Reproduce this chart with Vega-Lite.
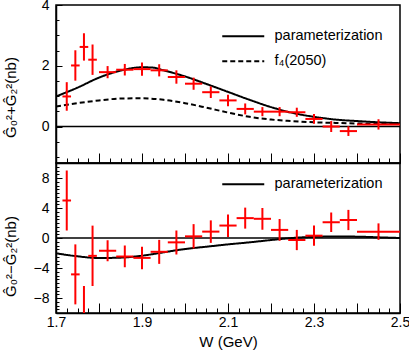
{
  "$schema": "https://vega.github.io/schema/vega-lite/v6.json",
  "padding": {"left": 2, "top": -3, "right": 5, "bottom": 0},
  "background": "white",
  "config": {
    "view": {"stroke": "black", "strokeWidth": 1.5},
    "font": "Liberation Sans",
    "axis": {
      "grid": false,
      "domainColor": "black",
      "domainWidth": 1.5,
      "tickColor": "black",
      "tickWidth": 1,
      "labelColor": "black",
      "labelFont": "Liberation Sans",
      "labelFontSize": 14,
      "titleColor": "black",
      "titleFont": "Liberation Sans",
      "titleFontSize": 15,
      "titleFontWeight": "normal",
      "labelOverlap": false,
      "labelFlush": false,
      "labelBound": false
    },
    "legend": {
      "labelFont": "Liberation Sans",
      "labelFontSize": 14.5,
      "labelColor": "black"
    }
  },
  "datasets": {
    "top_pts": [
      {"W": 1.725, "xlo": 1.715, "xhi": 1.735, "v": 0.99, "lo": 0.52, "hi": 1.46},
      {"W": 1.745, "xlo": 1.735, "xhi": 1.755, "v": 2.01, "lo": 1.51, "hi": 2.51},
      {"W": 1.765, "xlo": 1.755, "xhi": 1.775, "v": 2.62, "lo": 2.17, "hi": 3.07},
      {"W": 1.785, "xlo": 1.775, "xhi": 1.795, "v": 2.2, "lo": 1.7, "hi": 2.7},
      {"W": 1.82, "xlo": 1.8, "xhi": 1.84, "v": 1.79, "lo": 1.59, "hi": 1.99},
      {"W": 1.86, "xlo": 1.84, "xhi": 1.88, "v": 1.87, "lo": 1.68, "hi": 2.06},
      {"W": 1.9, "xlo": 1.88, "xhi": 1.92, "v": 1.89, "lo": 1.67, "hi": 2.11},
      {"W": 1.94, "xlo": 1.92, "xhi": 1.96, "v": 1.85, "lo": 1.65, "hi": 2.05},
      {"W": 1.98, "xlo": 1.96, "xhi": 2.0, "v": 1.63, "lo": 1.41, "hi": 1.85},
      {"W": 2.02, "xlo": 2.0, "xhi": 2.04, "v": 1.41, "lo": 1.21, "hi": 1.61},
      {"W": 2.06, "xlo": 2.04, "xhi": 2.08, "v": 1.13, "lo": 0.94, "hi": 1.32},
      {"W": 2.1, "xlo": 2.08, "xhi": 2.12, "v": 0.86, "lo": 0.67, "hi": 1.05},
      {"W": 2.14, "xlo": 2.12, "xhi": 2.16, "v": 0.58, "lo": 0.4, "hi": 0.76},
      {"W": 2.18, "xlo": 2.16, "xhi": 2.2, "v": 0.49, "lo": 0.34, "hi": 0.64},
      {"W": 2.22, "xlo": 2.2, "xhi": 2.24, "v": 0.49, "lo": 0.34, "hi": 0.64},
      {"W": 2.26, "xlo": 2.24, "xhi": 2.28, "v": 0.47, "lo": 0.32, "hi": 0.62},
      {"W": 2.3, "xlo": 2.28, "xhi": 2.32, "v": 0.25, "lo": 0.09, "hi": 0.41},
      {"W": 2.34, "xlo": 2.32, "xhi": 2.36, "v": 0.0, "lo": -0.18, "hi": 0.18},
      {"W": 2.38, "xlo": 2.36, "xhi": 2.4, "v": -0.15, "lo": -0.31, "hi": 0.01},
      {"W": 2.45, "xlo": 2.4, "xhi": 2.5, "v": 0.07, "lo": -0.1, "hi": 0.24}
    ],
    "top_curves": [
      {"W": 1.7, "value": 0.99, "series": "parameterization"},
      {"W": 1.75, "value": 1.28, "series": "parameterization"},
      {"W": 1.8, "value": 1.61, "series": "parameterization"},
      {"W": 1.85, "value": 1.84, "series": "parameterization"},
      {"W": 1.9, "value": 1.95, "series": "parameterization"},
      {"W": 1.925, "value": 1.94, "series": "parameterization"},
      {"W": 1.95, "value": 1.85, "series": "parameterization"},
      {"W": 2.0, "value": 1.65, "series": "parameterization"},
      {"W": 2.05, "value": 1.4, "series": "parameterization"},
      {"W": 2.1, "value": 1.14, "series": "parameterization"},
      {"W": 2.15, "value": 0.88, "series": "parameterization"},
      {"W": 2.2, "value": 0.64, "series": "parameterization"},
      {"W": 2.25, "value": 0.45, "series": "parameterization"},
      {"W": 2.3, "value": 0.32, "series": "parameterization"},
      {"W": 2.35, "value": 0.23, "series": "parameterization"},
      {"W": 2.4, "value": 0.18, "series": "parameterization"},
      {"W": 2.45, "value": 0.14, "series": "parameterization"},
      {"W": 2.5, "value": 0.11, "series": "parameterization"},
      {"W": 1.7, "value": 0.66, "series": "f₄(2050)"},
      {"W": 1.75, "value": 0.77, "series": "f₄(2050)"},
      {"W": 1.8, "value": 0.86, "series": "f₄(2050)"},
      {"W": 1.85, "value": 0.92, "series": "f₄(2050)"},
      {"W": 1.9, "value": 0.93, "series": "f₄(2050)"},
      {"W": 1.95, "value": 0.88, "series": "f₄(2050)"},
      {"W": 2.0, "value": 0.77, "series": "f₄(2050)"},
      {"W": 2.05, "value": 0.62, "series": "f₄(2050)"},
      {"W": 2.1, "value": 0.46, "series": "f₄(2050)"},
      {"W": 2.15, "value": 0.32, "series": "f₄(2050)"},
      {"W": 2.2, "value": 0.23, "series": "f₄(2050)"},
      {"W": 2.25, "value": 0.18, "series": "f₄(2050)"},
      {"W": 2.3, "value": 0.14, "series": "f₄(2050)"},
      {"W": 2.35, "value": 0.12, "series": "f₄(2050)"},
      {"W": 2.4, "value": 0.1, "series": "f₄(2050)"},
      {"W": 2.45, "value": 0.09, "series": "f₄(2050)"},
      {"W": 2.5, "value": 0.08, "series": "f₄(2050)"}
    ],
    "bot_pts": [
      {"W": 1.725, "xlo": 1.715, "xhi": 1.735, "v": 5.0, "lo": 1.0, "hi": 9.0},
      {"W": 1.745, "xlo": 1.735, "xhi": 1.755, "v": -4.85, "lo": -8.85, "hi": -0.85},
      {"W": 1.765, "xlo": 1.755, "xhi": 1.775, "v": -10.5, "lo": -14.5, "hi": -6.4},
      {"W": 1.785, "xlo": 1.775, "xhi": 1.795, "v": -2.38, "lo": -6.4, "hi": 1.65},
      {"W": 1.82, "xlo": 1.8, "xhi": 1.84, "v": -1.7, "lo": -3.1, "hi": -0.3},
      {"W": 1.86, "xlo": 1.84, "xhi": 1.88, "v": -2.47, "lo": -3.9, "hi": -1.0},
      {"W": 1.9, "xlo": 1.88, "xhi": 1.92, "v": -2.65, "lo": -4.15, "hi": -1.15},
      {"W": 1.94, "xlo": 1.92, "xhi": 1.96, "v": -1.84, "lo": -3.45, "hi": -0.25},
      {"W": 1.98, "xlo": 1.96, "xhi": 2.0, "v": -0.58, "lo": -2.2, "hi": 1.0},
      {"W": 2.02, "xlo": 2.0, "xhi": 2.04, "v": 0.22, "lo": -1.4, "hi": 1.85},
      {"W": 2.06, "xlo": 2.04, "xhi": 2.08, "v": 0.85, "lo": -0.65, "hi": 2.35},
      {"W": 2.1, "xlo": 2.08, "xhi": 2.12, "v": 1.66, "lo": 0.15, "hi": 3.15},
      {"W": 2.14, "xlo": 2.12, "xhi": 2.16, "v": 2.65, "lo": 1.25, "hi": 4.05},
      {"W": 2.18, "xlo": 2.16, "xhi": 2.2, "v": 2.56, "lo": 1.1, "hi": 4.0},
      {"W": 2.22, "xlo": 2.2, "xhi": 2.24, "v": 1.08, "lo": -0.37, "hi": 2.53},
      {"W": 2.26, "xlo": 2.24, "xhi": 2.28, "v": -0.27, "lo": -1.62, "hi": 1.08},
      {"W": 2.3, "xlo": 2.28, "xhi": 2.32, "v": 0.31, "lo": -1.04, "hi": 1.66},
      {"W": 2.34, "xlo": 2.32, "xhi": 2.36, "v": 2.1, "lo": 0.8, "hi": 3.4},
      {"W": 2.38, "xlo": 2.36, "xhi": 2.4, "v": 2.4, "lo": 1.05, "hi": 3.75},
      {"W": 2.45, "xlo": 2.4, "xhi": 2.5, "v": 0.85, "lo": -0.25, "hi": 1.95}
    ],
    "bot_curve": [
      {"W": 1.7, "value": -2.04, "series": "parameterization"},
      {"W": 1.75, "value": -2.44, "series": "parameterization"},
      {"W": 1.8, "value": -2.67, "series": "parameterization"},
      {"W": 1.85, "value": -2.62, "series": "parameterization"},
      {"W": 1.9, "value": -2.36, "series": "parameterization"},
      {"W": 1.95, "value": -1.91, "series": "parameterization"},
      {"W": 2.0, "value": -1.47, "series": "parameterization"},
      {"W": 2.05, "value": -1.16, "series": "parameterization"},
      {"W": 2.1, "value": -0.85, "series": "parameterization"},
      {"W": 2.15, "value": -0.58, "series": "parameterization"},
      {"W": 2.2, "value": -0.27, "series": "parameterization"},
      {"W": 2.25, "value": 0.0, "series": "parameterization"},
      {"W": 2.3, "value": 0.15, "series": "parameterization"},
      {"W": 2.35, "value": 0.2, "series": "parameterization"},
      {"W": 2.4, "value": 0.18, "series": "parameterization"},
      {"W": 2.45, "value": 0.09, "series": "parameterization"},
      {"W": 2.5, "value": 0.0, "series": "parameterization"}
    ]
  },
  "spacing": 0,
  "bounds": "flush",
  "resolve": {"scale": {"strokeDash": "independent", "y": "independent"}, "legend": {"strokeDash": "independent"}},
  "vconcat": [
    {
      "width": 344,
      "height": 158,
      "layer": [
        {
          "data": {"name": "top_curves"},
          "mark": {"type": "line", "color": "black", "strokeWidth": 2, "interpolate": "monotone", "clip": true},
          "encoding": {
            "x": {"field": "W", "type": "quantitative", "title": null,
              "scale": {"domain": [1.7, 2.5], "nice": false, "zero": false},
              "axis": {
                "values": [1.7, 1.725, 1.75, 1.775, 1.8, 1.825, 1.85, 1.875, 1.9, 1.925, 1.95, 1.975, 2.0, 2.025, 2.05, 2.075, 2.1, 2.125, 2.15, 2.175, 2.2, 2.225, 2.25, 2.275, 2.3, 2.325, 2.35, 2.375, 2.4, 2.425, 2.45, 2.475, 2.5],
                "tickCount": 200,
                "labels": false,
                "labelOverlap": false,
                "tickSize": {"expr": "(round(datum.value*40) % 4 == 0) ? -10 : -5"}
              }
            },
            "y": {"field": "value", "type": "quantitative", "title": "Ĝ₀²+Ĝ₂²(nb)",
              "scale": {"domain": [-1.2, 4], "nice": false, "zero": false},
              "axis": {
                "values": [-1, -0.5, 0, 0.5, 1, 1.5, 2, 2.5, 3, 3.5, 4],
                "tickCount": 200,
                "format": ".0f",
                "labelOverlap": false,
                "labelExpr": "datum.value % 2 == 0 ? datum.label : ''",
                "tickSize": {"expr": "(round(datum.value*2) % 4 == 0) ? -6 : -3"},
                "labelPadding": 13,
                "titleX": -38,
                "titleY": 92
              }
            },
            "strokeDash": {"field": "series", "type": "nominal",
              "scale": {"domain": ["parameterization", "f₄(2050)"], "range": [[1, 0], [5, 3]]},
              "legend": {
                "orient": "none", "legendX": 180, "legendY": 24, "title": null,
                "symbolType": "M-4.2,0H4.2", "symbolSize": 100, "symbolStrokeWidth": 2,
                "symbolStrokeColor": "black", "labelOffset": 24, "rowPadding": 10
              }
            }
          }
        },
        {
          "data": {"values": [{}]},
          "mark": {"type": "rule", "color": "black", "strokeWidth": 1.5},
          "encoding": {"y": {"datum": 0, "type": "quantitative", "scale": {"domain": [-1.2, 4], "nice": false, "zero": false}}}
        },
        {
          "data": {"name": "top_pts"},
          "mark": {"type": "rule", "color": "#ff0000", "strokeWidth": 2, "clip": true},
          "encoding": {
            "x": {"field": "W", "type": "quantitative", "title": null, "scale": {"domain": [1.7, 2.5], "nice": false, "zero": false}},
            "y": {"field": "lo", "type": "quantitative", "title": "Ĝ₀²+Ĝ₂²(nb)", "scale": {"domain": [-1.2, 4], "nice": false, "zero": false}},
            "y2": {"field": "hi"}
          }
        },
        {
          "data": {"name": "top_pts"},
          "mark": {"type": "rule", "color": "#ff0000", "strokeWidth": 2, "clip": true},
          "encoding": {
            "x": {"field": "xlo", "type": "quantitative", "title": null, "scale": {"domain": [1.7, 2.5], "nice": false, "zero": false}},
            "x2": {"field": "xhi"},
            "y": {"field": "v", "type": "quantitative", "title": "Ĝ₀²+Ĝ₂²(nb)", "scale": {"domain": [-1.2, 4], "nice": false, "zero": false}}
          }
        }
      ]
    },
    {
      "width": 344,
      "height": 150,
      "layer": [
        {
          "data": {"name": "bot_curve"},
          "mark": {"type": "line", "color": "black", "strokeWidth": 2, "interpolate": "monotone", "clip": true},
          "encoding": {
            "x": {"field": "W", "type": "quantitative", "title": "W (GeV)",
              "scale": {"domain": [1.7, 2.5], "nice": false, "zero": false},
              "axis": {
                "values": [1.7, 1.725, 1.75, 1.775, 1.8, 1.825, 1.85, 1.875, 1.9, 1.925, 1.95, 1.975, 2.0, 2.025, 2.05, 2.075, 2.1, 2.125, 2.15, 2.175, 2.2, 2.225, 2.25, 2.275, 2.3, 2.325, 2.35, 2.375, 2.4, 2.425, 2.45, 2.475, 2.5],
                "tickCount": 200,
                "labelOverlap": false,
                "labelExpr": "((round(datum.value*40) - 68) % 8 == 0) ? format(datum.value, '.1f') : ''",
                "tickSize": {"expr": "(round(datum.value*40) % 4 == 0) ? -10 : -5"},
                "labelPadding": 12,
                "titleY": 28,
                "titleBaseline": "middle"
              }
            },
            "y": {"field": "value", "type": "quantitative", "title": "Ĝ₀²−Ĝ₂²(nb)",
              "scale": {"domain": [-10, 10], "nice": false, "zero": false},
              "axis": {
                "values": [-10, -9.5, -9, -8.5, -8, -7.5, -7, -6.5, -6, -5.5, -5, -4.5, -4, -3.5, -3, -2.5, -2, -1.5, -1, -0.5, 0, 0.5, 1, 1.5, 2, 2.5, 3, 3.5, 4, 4.5, 5, 5.5, 6, 6.5, 7, 7.5, 8, 8.5, 9, 9.5, 10],
                "tickCount": 200,
                "format": ".0f",
                "labelOverlap": false,
                "labelExpr": "(datum.value % 4 == 0 && abs(datum.value) < 9) ? datum.label : ''",
                "tickSize": {"expr": "(round(datum.value*2) % 8 == 0) ? -6 : -3"},
                "labelPadding": 13,
                "titleX": -38,
                "titleY": 93
              }
            },
            "strokeDash": {"field": "series", "type": "nominal",
              "scale": {"domain": ["parameterization"], "range": [[1, 0]]},
              "legend": {
                "orient": "none", "legendX": 180, "legendY": 14, "title": null,
                "symbolType": "M-4.2,0H4.2", "symbolSize": 100, "symbolStrokeWidth": 2,
                "symbolStrokeColor": "black", "labelOffset": 24
              }
            }
          }
        },
        {
          "data": {"values": [{}]},
          "mark": {"type": "rule", "color": "black", "strokeWidth": 1.5},
          "encoding": {"y": {"datum": 0, "type": "quantitative", "scale": {"domain": [-10, 10], "nice": false, "zero": false}}}
        },
        {
          "data": {"name": "bot_pts"},
          "mark": {"type": "rule", "color": "#ff0000", "strokeWidth": 2, "clip": true},
          "encoding": {
            "x": {"field": "W", "type": "quantitative", "title": "W (GeV)", "scale": {"domain": [1.7, 2.5], "nice": false, "zero": false}},
            "y": {"field": "lo", "type": "quantitative", "title": "Ĝ₀²−Ĝ₂²(nb)", "scale": {"domain": [-10, 10], "nice": false, "zero": false}},
            "y2": {"field": "hi"}
          }
        },
        {
          "data": {"name": "bot_pts"},
          "mark": {"type": "rule", "color": "#ff0000", "strokeWidth": 2, "clip": true},
          "encoding": {
            "x": {"field": "xlo", "type": "quantitative", "title": "W (GeV)", "scale": {"domain": [1.7, 2.5], "nice": false, "zero": false}},
            "x2": {"field": "xhi"},
            "y": {"field": "v", "type": "quantitative", "title": "Ĝ₀²−Ĝ₂²(nb)", "scale": {"domain": [-10, 10], "nice": false, "zero": false}}
          }
        }
      ]
    }
  ]
}
